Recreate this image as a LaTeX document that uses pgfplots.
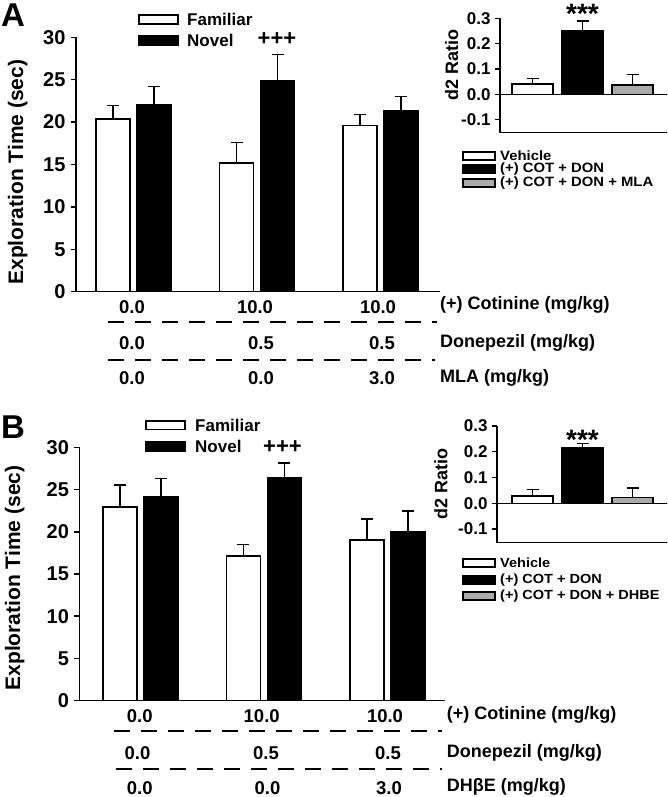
\documentclass[border=0pt]{standalone}
\usepackage{pgfplots}
\pgfplotsset{compat=1.18}
\usepackage{fontspec}
\setmainfont{Liberation Sans}
\newfontfamily\widefont{Liberation Sans}[FakeStretch=1.1]

\definecolor{barGray}{RGB}{170,170,170}
\newcommand{\fs}[1]{\fontsize{#1}{#1}\selectfont\bfseries}
\newcommand{\wfs}[1]{\widefont\fontsize{#1}{#1}\selectfont\bfseries}

\pgfplotsset{
  errs/.style={
    /pgfplots/error bars/y dir=plus,
    /pgfplots/error bars/y explicit,
    /pgfplots/error bars/error bar style={line width=1.4pt, black},
    /pgfplots/error bars/error mark options={rotate=90, line width=1.4pt, mark size=6pt, black},
  },
  fam/.style={fill=white, draw=black, line width=1.4pt},
  nov/.style={fill=black, draw=black, line width=1.4pt},
  grey/.style={fill=barGray, draw=black, line width=1.4pt},
  mainbars/.style={
    scale only axis, ybar, bar width=0.275, clip=false,
    ymin=0, ymax=30, ytick={0,5,...,30}, xtick=\empty,
    axis x line*=bottom, axis y line*=left,
    axis line style={line width=1.4pt},
    tick align=outside, major tick length=5pt,
    tick style={line width=1.4pt, black},
    yticklabel style={font=\fs{20}, xshift=-2pt, /pgf/number format/assume math mode=true},
    ylabel={Exploration Time (sec)},
    ylabel style={font=\fs{21}},
  },
  inset/.style={
    scale only axis, ybar, bar width=0.82, clip=false,
    ymin=-0.152, ymax=0.3, ytick={-0.1,0,0.1,0.2,0.3}, xtick=\empty,
    xmax=2.69,
    axis x line*=bottom, axis y line*=left,
    axis line style={line width=1.4pt},
    tick align=outside, major tick length=5pt,
    tick style={line width=1.4pt, black},
    yticklabel style={font=\fs{17}, xshift=-1pt, /pgf/number format/.cd, fixed, fixed zerofill, precision=1, assume math mode=true},
    extra y ticks={0}, extra y tick labels={},
    extra y tick style={grid=major, major grid style={black, line width=1.4pt}},
    ylabel={d2 Ratio},
    ylabel style={font=\fs{18}},
  },
}

\begin{document}
\begin{tikzpicture}
\path[use as bounding box] (0pt,0pt) rectangle (667pt,-797pt);

% ---------- panel A ----------
\begin{axis}[mainbars, at={(76pt,-291.7pt)}, anchor=south west,
  width=364pt, height=254.4pt, xmin=-0.466, xmax=2.482,
  ylabel style={at={(axis description cs:-0.16,0.47)}, anchor=center}]
\addplot[fam, bar shift=-0.166, errs] coordinates {(0,20.37) +- (0,1.56) (1,15.18) +- (0,2.39) (2,19.58) +- (0,1.29)};
\addplot[nov, bar shift=0.166, errs] coordinates {(0,22.10) +- (0,2.07) (1,24.93) +- (0,3.07) (2,21.31) +- (0,1.73)};
\end{axis}

\begin{axis}[inset, at={(500pt,-132.7pt)}, anchor=south west,
  width=167pt, height=114.4pt, xmin=-0.65,
  ylabel style={at={(axis description cs:-0.29,0.59)}, anchor=center}]
\addplot[fam, bar shift=0, errs] coordinates {(0,0.041) +- (0,0.022)};
\addplot[nov, bar shift=0, errs] coordinates {(1,0.250) +- (0,0.039)};
\addplot[grey, bar shift=0, errs] coordinates {(2,0.037) +- (0,0.041)};
\node[font=\fs{28}, anchor=base] at (axis cs:1,0.2775) {***};
\end{axis}

% ---------- panel B ----------
\begin{axis}[mainbars, at={(79.5pt,-700.5pt)}, anchor=south west,
  width=365.5pt, height=253pt, xmin=-0.494, xmax=2.466,
  ylabel style={at={(axis description cs:-0.177,0.484)}, anchor=center}]
\addplot[fam, bar shift=-0.166, errs] coordinates {(0,22.96) +- (0,2.61) (1,17.12) +- (0,1.38) (2,19.02) +- (0,2.48)};
\addplot[nov, bar shift=0.166, errs] coordinates {(0,24.15) +- (0,2.18) (1,26.45) +- (0,1.73) (2,19.96) +- (0,2.53)};
\end{axis}

\begin{axis}[inset, at={(497pt,-542.7pt)}, anchor=south west,
  width=170pt, height=116.7pt, xmin=-0.71, ymin=-0.153,
  ylabel style={at={(axis description cs:-0.33,0.5)}, anchor=center}]
\addplot[fam, bar shift=0, errs] coordinates {(0,0.028) +- (0,0.026)};
\addplot[nov, bar shift=0, errs] coordinates {(1,0.216) +- (0,0.017)};
\addplot[grey, bar shift=0, errs] coordinates {(2,0.023) +- (0,0.036)};
\node[font=\fs{28}, anchor=base] at (axis cs:1,0.208) {***};
\end{axis}

% ---------- annotations ----------
\begin{scope}[x=1pt, y=-1pt]
  % panel letters
  \node[font=\fs{33}, anchor=west, inner sep=0] at (1,15) {A};
  \node[font=\fs{33}, anchor=west, inner sep=0] at (1,427.5) {B};

  % main legends
  \draw[line width=1.4pt, fill=white] (139,15) rectangle (178,24);
  \draw[line width=1.4pt, fill=black] (139,36) rectangle (178,45);
  \node[font=\fs{17}, anchor=west, inner sep=0] at (187,19.5) {Familiar};
  \node[font=\fs{17}, anchor=west, inner sep=0] at (187,40.5) {Novel};
  \node[font=\fs{22}, inner sep=0] at (277,39) {+++};

  \draw[line width=1.4pt, fill=white] (146,421) rectangle (185,429.5);
  \draw[line width=1.4pt, fill=black] (146,442) rectangle (185,451);
  \node[font=\fs{17}, anchor=west, inner sep=0] at (195,425) {Familiar};
  \node[font=\fs{17}, anchor=west, inner sep=0] at (195,446.5) {Novel};
  \node[font=\fs{22}, inner sep=0] at (282.5,447) {+++};

  % inset legends
  \draw[line width=1.4pt, fill=white]   (463,152) rectangle (495,160);
  \draw[line width=1.4pt, fill=black]   (463,165) rectangle (495,173);
  \draw[line width=1.4pt, fill=barGray] (463,179) rectangle (495,187);
  \node[font=\wfs{13.5}, anchor=west, inner sep=0] at (500,156) {Vehicle};
  \node[font=\wfs{13.5}, anchor=west, inner sep=0] at (500,169.5) {(+) COT + DON};
  \node[font=\wfs{13.5}, anchor=west, inner sep=0] at (500,183) {(+) COT + DON + MLA};

  \draw[line width=1.4pt, fill=white]   (463,559) rectangle (495,567);
  \draw[line width=1.4pt, fill=black]   (463,576) rectangle (495,584);
  \draw[line width=1.4pt, fill=barGray] (463,592) rectangle (495,600);
  \node[font=\wfs{13.2}, anchor=west, inner sep=0] at (500,563) {Vehicle};
  \node[font=\wfs{13.2}, anchor=west, inner sep=0] at (500,580) {(+) COT + DON};
  \node[font=\wfs{13.2}, anchor=west, inner sep=0] at (500,596) {(+) COT + DON + DHBE};

  % dose table A
  \foreach \x/\t in {132/0.0, 255/10.0, 378/10.0}
    \node[font=\fs{18.5}, inner sep=0] at (\x,306.7) {\t};
  \foreach \x/\t in {132/0.0, 261/0.5, 382/0.5}
    \node[font=\fs{18.5}, inner sep=0] at (\x,343) {\t};
  \foreach \x/\t in {132/0.0, 261/0.0, 382/3.0}
    \node[font=\fs{18.5}, inner sep=0] at (\x,378) {\t};
  \draw[line width=2.8pt, dash pattern=on 16pt off 11pt] (108,322) -- (437,322);
  \draw[line width=2.8pt, dash pattern=on 16pt off 11pt] (108,360) -- (435,360);
  \node[font=\fs{18}, anchor=west, inner sep=0] at (440,305) {(+) Cotinine (mg/kg)};
  \node[font=\fs{18}, anchor=west, inner sep=0] at (440,343) {Donepezil (mg/kg)};
  \node[font=\fs{18}, anchor=west, inner sep=0] at (440,378) {MLA (mg/kg)};

  % dose table B
  \foreach \x/\t in {139.7/0.0, 261.7/10.0, 385/10.0}
    \node[font=\fs{18.5}, inner sep=0] at (\x,716) {\t};
  \foreach \x/\t in {137.5/0.0, 266/0.5, 388/0.5}
    \node[font=\fs{18.5}, inner sep=0] at (\x,752.7) {\t};
  \foreach \x/\t in {139.7/0.0, 267.5/0.0, 389/3.0}
    \node[font=\fs{18.5}, inner sep=0] at (\x,788) {\t};
  \draw[line width=2.8pt, dash pattern=on 16pt off 11pt] (114,731) -- (442,731);
  \draw[line width=2.8pt, dash pattern=on 16pt off 11pt] (116,769) -- (442,769);
  \node[font=\fs{18}, anchor=west, inner sep=0] at (446.7,715) {(+) Cotinine (mg/kg)};
  \node[font=\fs{18}, anchor=west, inner sep=0] at (446.7,752.7) {Donepezil (mg/kg)};
  \node[font=\fs{18}, anchor=west, inner sep=0] at (446.7,787) {DHβE (mg/kg)};
\end{scope}
\end{tikzpicture}
\end{document}
